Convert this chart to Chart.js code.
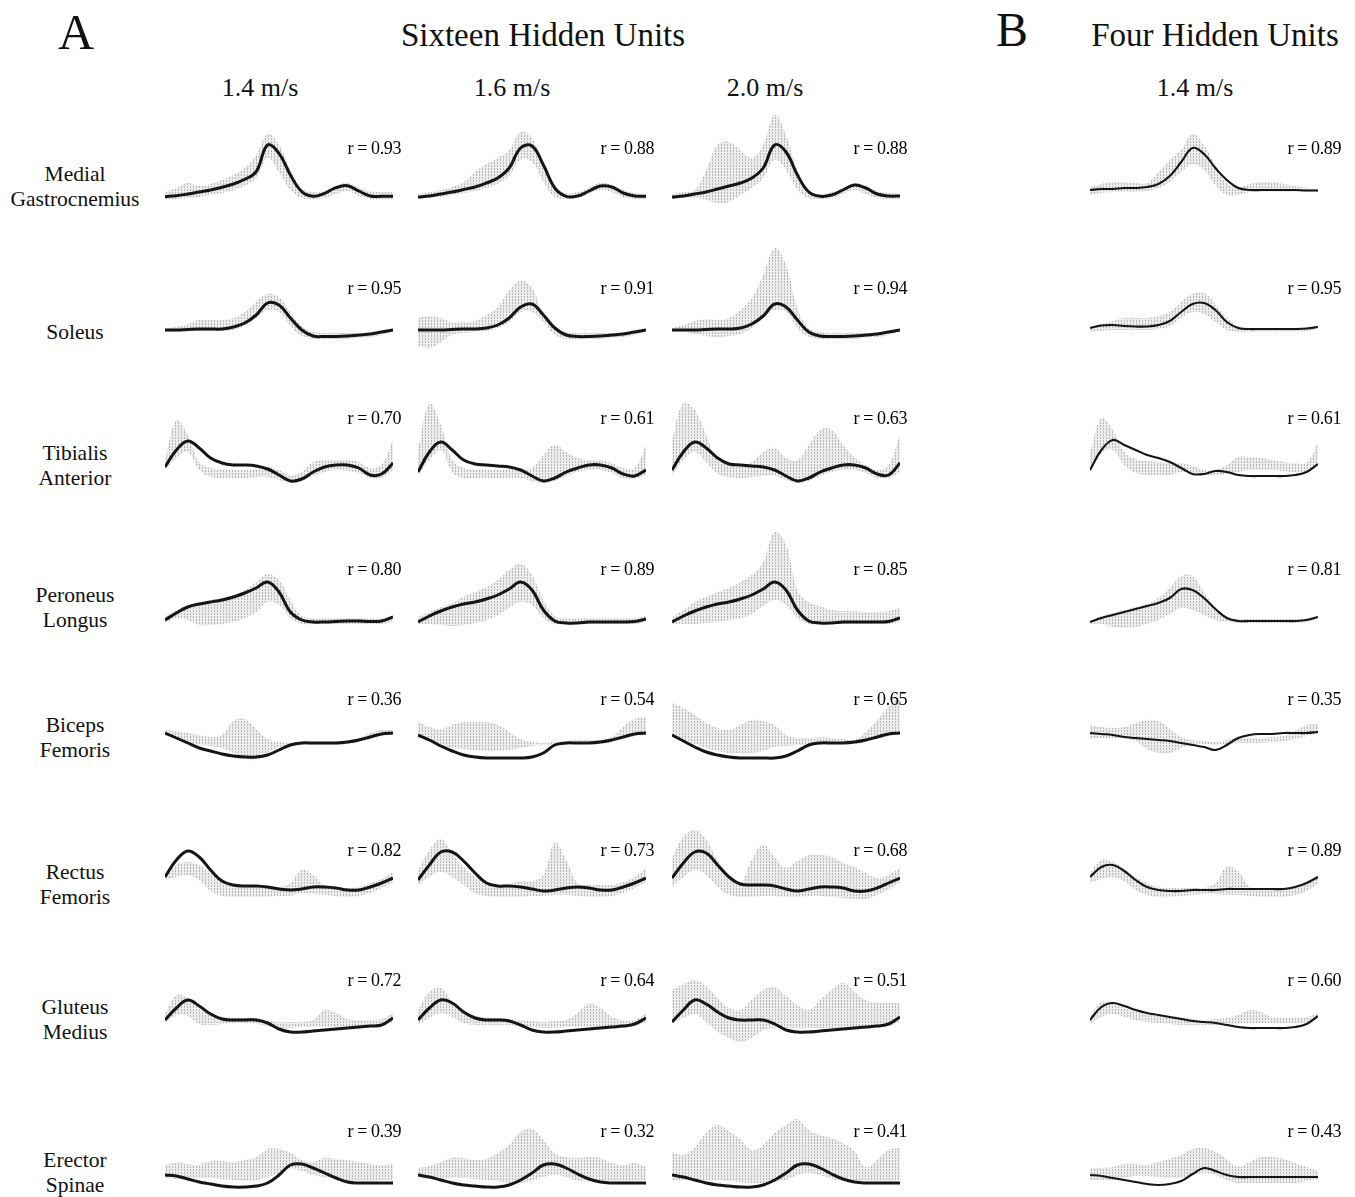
<!DOCTYPE html>
<html>
<head>
<meta charset="utf-8">
<script src="https://cdn.jsdelivr.net/npm/chart.js@4/dist/chart.umd.min.js"></script>
<style>
  html, body { margin: 0; padding: 0; background: #fff; }
  body { width: 1355px; height: 1197px; position: relative; overflow: hidden;
         font-family: "Liberation Serif", "Times New Roman", serif; color: #111; }
  .txt { position: absolute; white-space: nowrap; line-height: 1; }
  .mid { transform: translate(-50%, -50%); text-align: center; }
  .rlab { transform: translate(-100%, -50%); font-size: 18px; letter-spacing: -0.4px; color: #000; }
  .rowlab { font-size: 21.5px; line-height: 25px; }
  canvas.panel { position: absolute; }
</style>
</head>
<body>
<script>
// ---- data (gait cycle in %, activation in arbitrary units) ----
const gaitCycle = [0, 5, 10, 15, 20, 25, 30, 35, 40, 45, 50, 55, 60, 65, 70, 75, 80, 85, 90, 95, 100]

const muscleNames = [['Medial', 'Gastrocnemius'], ['Soleus'], ['Tibialis', 'Anterior'], ['Peroneus', 'Longus'],
                     ['Biceps', 'Femoris'], ['Rectus', 'Femoris'], ['Gluteus', 'Medius'], ['Erector', 'Spinae']]
const speedLabels = ['1.4 m/s', '1.6 m/s', '2.0 m/s', '1.4 m/s']

// correlation per muscle: 16 units @1.4, 1.6, 2.0 m/s, 4 units @1.4 m/s
const rValues = [
    [0.93, 0.88, 0.88, 0.89],
    [0.95, 0.91, 0.94, 0.95],
    [0.70, 0.61, 0.63, 0.61],
    [0.80, 0.89, 0.85, 0.81],
    [0.36, 0.54, 0.65, 0.35],
    [0.82, 0.73, 0.68, 0.89],
    [0.72, 0.64, 0.51, 0.60],
    [0.39, 0.32, 0.41, 0.43]
]

const medGastroModel = [
    [3.3, 4.3, 6, 8, 10, 12.7, 16, 20.7, 28.3, 55, 46.7, 25, 8.3, 3.7, 6.7, 12.3, 14.3, 9, 4, 3.7, 3.7],
    [3, 4, 6, 8, 10.5, 13, 17, 22, 32, 52, 54, 35, 12, 3.7, 4, 9, 14, 13, 7, 4, 3.7],
    [3, 4, 6, 8, 11, 14, 17, 22, 32, 55, 48, 25, 8, 3.7, 5, 10, 15, 12, 6, 4, 4],
    [10, 11, 11, 12, 12, 13, 16, 24, 38, 52, 46, 32, 20, 12, 10, 10, 10, 10, 10, 9.5, 9.5]
]
const medGastroUpper = [
    [8, 12, 17, 14, 16, 20, 25, 32, 45, 66, 55, 30, 12, 8, 9, 14, 17, 12, 9, 8, 8],
    [6, 8, 10, 13, 18, 28, 36, 42, 50, 68, 62, 35, 12, 7, 8, 12, 17, 15, 10, 7, 6],
    [6, 8, 10, 30, 55, 58, 50, 42, 55, 85, 65, 30, 10, 6, 8, 12, 17, 14, 9, 7, 6],
    [12, 16, 18, 18, 17, 17, 28, 40, 50, 66, 55, 35, 17, 13, 16, 18, 18, 16, 14, 12, 11]
]
const medGastroLower = [
    [1, 1, 2, 3, 5, 7, 10, 14, 22, 42, 28, 10, 2, 1, 2, 6, 9, 4, 1, 1, 1],
    [1, 2, 3, 5, 7, 9, 12, 16, 24, 40, 38, 18, 3, 1, 2, 6, 10, 8, 3, 1, 1],
    [1, 2, 2, 0, -3, -2, 5, 12, 22, 40, 30, 10, 2, 1, 2, 6, 10, 6, 2, 1, 1],
    [5, 7, 8, 8, 8, 9, 12, 18, 28, 36, 30, 15, 5, 5, 8, 8, 8, 8, 8, 8, 8]
]

const soleusModel = [
    [10, 10, 10.5, 11, 11, 11, 13, 17, 25, 37, 35, 22, 10, 4, 3.5, 3.5, 4, 5, 6, 8, 10],
    [10, 10, 10, 10.5, 11, 11, 12, 15, 22, 33, 36, 25, 12, 5, 3.5, 3.5, 4, 5, 6, 8, 10],
    [10, 10, 10, 10.5, 11, 11, 12, 16, 24, 36, 33, 20, 8, 4, 3.5, 3.5, 4, 5, 6, 8, 10],
    [12, 14.5, 15, 14, 13.5, 13.5, 15, 19, 28, 36, 37, 30, 18, 12, 11, 11, 11, 11, 11, 11.5, 13]
]
const soleusUpper = [
    [12, 13, 16, 20, 20, 20, 22, 28, 38, 46, 43, 28, 14, 8, 7, 7, 7, 7, 7, 8, 11],
    [22, 24, 22, 18, 18, 19, 25, 33, 50, 59, 52, 25, 12, 8, 7, 7, 7, 7, 7, 8, 11],
    [12, 15, 19, 21, 20, 22, 30, 42, 65, 92, 75, 32, 12, 8, 7, 7, 7, 7, 7, 8, 11],
    [13, 16, 19, 22, 22, 22, 24, 28, 38, 46, 47, 36, 22, 14, 12, 12, 12, 12, 12, 12, 14]
]
const soleusLower = [
    [8, 8, 9, 9, 9, 9, 10, 14, 22, 30, 28, 14, 4, 1, 1, 1, 1, 2, 3, 5, 8],
    [-6, -8, -2, 5, 7, 8, 9, 12, 18, 28, 28, 18, 5, 1, 1, 1, 1, 2, 3, 5, 8],
    [8, 8, 6, 4, 3, 4, 6, 12, 22, 30, 28, 12, 3, 1, 1, 1, 1, 2, 3, 5, 8],
    [8, 9, 10, 10, 10, 10, 11, 14, 22, 28, 26, 18, 10, 8, 8, 8, 8, 8, 8, 9, 11]
]

const tibAntModel = [
    [23, 40, 49, 42, 32, 27, 25, 25, 24, 21, 15, 9, 11, 18, 23, 25, 25, 22, 15, 16, 27],
    [18, 38, 48, 40, 30, 26, 25, 24, 23, 20, 14, 9, 12, 18, 22, 25, 25, 22, 16, 14, 20],
    [20, 38, 48, 42, 32, 26, 25, 24, 23, 20, 14, 9, 12, 18, 22, 25, 25, 22, 16, 15, 27],
    [20, 40, 50, 45, 40, 35, 32, 28, 22, 16, 16, 19, 18, 15, 14, 14, 14, 14, 15, 18, 26]
]
const tibAntUpper = [
    [30, 70, 55, 28, 22, 21, 20, 20, 21, 23, 20, 15, 18, 28, 30, 30, 30, 28, 22, 25, 50],
    [40, 86, 65, 30, 22, 21, 20, 20, 21, 22, 22, 35, 45, 38, 32, 30, 30, 27, 22, 22, 45],
    [50, 87, 80, 55, 30, 26, 25, 28, 38, 42, 32, 30, 45, 60, 60, 45, 33, 25, 20, 25, 55],
    [37, 72, 60, 38, 31, 29, 28, 27, 27, 24, 20, 20, 25, 33, 33, 32, 30, 28, 27, 27, 47]
]
const tibAntLower = [
    [20, 32, 38, 20, 13, 12, 12, 12, 13, 13, 10, 8, 9, 14, 18, 20, 19, 17, 12, 12, 20],
    [15, 30, 40, 18, 12, 12, 12, 12, 12, 12, 9, 7, 9, 14, 18, 20, 20, 17, 12, 11, 15],
    [15, 30, 38, 28, 16, 13, 12, 13, 14, 14, 10, 7, 9, 14, 18, 20, 20, 17, 12, 12, 18],
    [17, 37, 40, 25, 17, 15, 15, 15, 18, 17, 15, 15, 16, 18, 20, 20, 20, 19, 18, 19, 25]
]

const peronModel = [
    [10, 17, 23, 26, 28, 30, 33, 37, 42, 48, 38, 18, 10, 8, 8, 8.5, 9, 9, 8.5, 9, 13],
    [8, 14, 19, 23, 26, 28, 31, 35, 41, 48, 40, 20, 9, 7, 7, 8, 8, 8, 8, 8.5, 11],
    [8, 14, 19, 23, 26, 28, 31, 35, 41, 48, 40, 20, 9, 7, 7, 8, 8, 8, 8, 8.5, 12],
    [8, 12, 15, 18, 21, 24, 27, 32, 41, 40, 32, 21, 12, 9, 9, 9, 9, 9, 9, 10, 13]
]
const peronUpper = [
    [14, 20, 25, 27, 30, 32, 35, 40, 48, 56, 50, 30, 14, 12, 12, 12, 12, 12, 12, 12, 14],
    [13, 18, 23, 27, 33, 38, 43, 50, 60, 66, 55, 30, 14, 12, 12, 12, 12, 12, 12, 12, 14],
    [13, 20, 28, 33, 38, 42, 48, 55, 68, 98, 85, 40, 28, 24, 20, 19, 19, 18, 18, 19, 22],
    [9, 14, 17, 20, 23, 26, 32, 42, 54, 54, 38, 22, 13, 11, 11, 11, 11, 11, 11, 12, 14]
]
const peronLower = [
    [7, 12, 10, 5, 5, 6, 8, 12, 18, 28, 25, 12, 6, 6, 6, 6, 6, 6, 6, 6, 8],
    [6, 6, 5, 4, 5, 7, 10, 15, 22, 28, 25, 12, 6, 6, 6, 6, 6, 6, 6, 6, 8],
    [6, 6, 6, 7, 8, 10, 12, 16, 24, 30, 25, 12, 6, 6, 6, 6, 6, 6, 6, 6, 8],
    [6, 6, 3, 2, 3, 6, 10, 16, 22, 20, 15, 10, 8, 7, 7, 7, 7, 7, 7, 8, 11]
]

const bicepsModel = [
    [32, 27, 22, 17, 14, 11, 9, 8, 8, 10, 15, 20, 22, 22, 22, 22, 23, 25, 28, 31, 32],
    [30, 25, 19, 14, 10, 8, 7, 7, 7, 7, 8, 12, 20, 22, 22, 22, 23, 25, 28, 31, 32],
    [30, 24, 18, 13, 10, 8, 7, 7, 7, 7, 9, 14, 20, 22, 22, 22, 23, 25, 28, 31, 32],
    [32, 31, 30, 28, 27, 26, 25, 24, 22, 20, 18, 15, 20, 27, 30, 31, 31, 32, 32, 32, 33]
]
const bicepsUpper = [
    [35, 34, 32, 30, 28, 30, 44, 46, 36, 26, 23, 22, 23, 23, 23, 23, 24, 27, 32, 35, 35],
    [43, 38, 36, 40, 43, 43, 43, 40, 33, 26, 23, 22, 23, 24, 25, 25, 25, 28, 38, 46, 48],
    [62, 57, 50, 42, 37, 35, 40, 45, 44, 40, 30, 27, 27, 28, 27, 26, 25, 33, 45, 58, 68],
    [40, 38, 37, 38, 42, 45, 44, 36, 28, 25, 24, 23, 25, 27, 27, 27, 28, 29, 34, 40, 41]
]
const bicepsLower = [
    [30, 26, 22, 20, 19, 17, 12, 7, 5, 12, 18, 19, 20, 20, 20, 20, 21, 23, 26, 30, 31],
    [28, 24, 20, 17, 16, 15, 14, 14, 15, 17, 19, 20, 20, 20, 21, 21, 21, 23, 26, 29, 31],
    [28, 25, 21, 17, 14, 12, 12, 12, 14, 18, 19, 20, 20, 20, 21, 21, 21, 23, 26, 29, 31],
    [27, 27, 27, 26, 24, 16, 12, 12, 17, 21, 21, 20, 21, 22, 22, 22, 23, 24, 26, 29, 32]
]

const rectusModel = [
    [28, 45, 54, 48, 35, 24, 20, 19, 19, 18, 16, 15, 16, 18, 18, 17, 15, 15, 18, 22, 27],
    [25, 40, 53, 53, 44, 32, 22, 19, 19, 18, 16, 14, 15, 17, 18, 17, 15, 15, 18, 22, 27],
    [27, 42, 53, 52, 40, 28, 21, 20, 20, 19, 16, 14, 16, 18, 18, 17, 14, 14, 17, 22, 27],
    [28, 38, 40, 34, 25, 18, 15, 14, 14, 15, 15, 15, 16, 16, 16, 16, 16, 16, 18, 22, 28]
]
const rectusUpper = [
    [30, 40, 43, 40, 32, 24, 20, 19, 19, 19, 18, 22, 35, 30, 20, 18, 17, 18, 22, 26, 33],
    [35, 55, 66, 52, 38, 28, 22, 20, 21, 24, 24, 30, 62, 45, 22, 20, 20, 20, 23, 28, 37],
    [47, 68, 75, 65, 45, 30, 22, 45, 60, 48, 37, 44, 50, 50, 48, 42, 38, 32, 27, 30, 37],
    [32, 45, 43, 36, 28, 22, 18, 17, 17, 17, 17, 22, 38, 34, 18, 16, 16, 17, 19, 23, 30]
]
const rectusLower = [
    [25, 28, 30, 25, 14, 9, 8, 8, 8, 8, 9, 9, 12, 11, 10, 9, 8, 9, 12, 17, 23],
    [20, 28, 33, 28, 20, 12, 9, 8, 8, 8, 9, 9, 10, 10, 9, 8, 8, 9, 12, 17, 23],
    [18, 28, 35, 30, 18, 10, 8, 8, 9, 9, 8, 8, 9, 9, 8, 7, 6, 6, 10, 16, 23],
    [22, 26, 28, 24, 15, 10, 8, 8, 9, 10, 11, 11, 10, 10, 9, 8, 8, 8, 10, 14, 22]
]

const glutModel = [
    [30, 42, 50, 44, 36, 31, 30, 30, 30, 27, 21, 18, 18, 19, 20, 21, 22, 23, 24, 25, 32],
    [30, 42, 50, 47, 38, 32, 30, 30, 29, 25, 20, 18, 18, 19, 20, 21, 22, 23, 24, 26, 32],
    [28, 40, 50, 46, 38, 32, 30, 30, 30, 26, 20, 18, 18, 19, 20, 21, 22, 23, 24, 26, 33],
    [30, 43, 47, 44, 40, 37, 35, 33, 31, 29, 28, 27, 25, 23, 22, 22, 22, 22, 23, 26, 34]
]
const glutUpper = [
    [36, 55, 52, 42, 35, 33, 32, 32, 32, 30, 28, 28, 28, 30, 40, 37, 31, 30, 30, 31, 37],
    [40, 58, 62, 48, 38, 34, 33, 32, 31, 30, 29, 28, 29, 30, 37, 46, 42, 33, 30, 30, 37],
    [60, 66, 70, 64, 52, 42, 40, 50, 60, 63, 54, 45, 40, 50, 60, 67, 58, 50, 47, 47, 47],
    [33, 48, 46, 42, 38, 36, 35, 34, 33, 31, 30, 31, 32, 35, 40, 38, 33, 32, 32, 33, 37]
]
const glutLower = [
    [27, 35, 34, 26, 25, 26, 27, 27, 26, 24, 22, 22, 23, 23, 23, 23, 23, 23, 23, 24, 28],
    [25, 32, 37, 33, 27, 25, 25, 25, 25, 24, 23, 22, 22, 23, 23, 23, 23, 23, 23, 24, 28],
    [27, 32, 36, 28, 18, 12, 8, 12, 20, 22, 22, 22, 22, 22, 22, 22, 22, 22, 23, 24, 28],
    [26, 33, 36, 33, 30, 28, 27, 26, 25, 25, 25, 25, 25, 26, 27, 27, 27, 27, 27, 28, 32]
]

const erectorModel = [
    [20, 19, 16, 13, 11, 9, 8, 8, 9, 12, 20, 30, 31, 27, 22, 17, 13, 12, 12, 12, 12],
    [20, 18, 15, 12, 10, 9, 8, 8, 10, 15, 22, 30, 31, 27, 21, 16, 13, 12, 12, 12, 12],
    [20, 18, 15, 12, 10, 9, 8, 8, 10, 15, 22, 30, 31, 27, 21, 16, 13, 12, 12, 12, 12],
    [20, 19, 17, 15, 13, 11, 10, 11, 14, 21, 27, 24, 20, 18, 18, 18, 18, 18, 18, 18, 18]
]
const erectorUpper = [
    [30, 32, 31, 30, 34, 34, 33, 35, 38, 46, 46, 42, 35, 33, 37, 36, 35, 33, 31, 30, 31],
    [27, 29, 33, 37, 37, 35, 36, 42, 50, 63, 66, 55, 42, 38, 37, 38, 37, 32, 30, 32, 28],
    [43, 40, 48, 62, 70, 64, 55, 45, 50, 62, 70, 76, 65, 60, 57, 52, 44, 28, 35, 45, 47],
    [27, 27, 28, 31, 31, 30, 33, 36, 40, 46, 47, 43, 36, 28, 33, 38, 38, 36, 32, 28, 24]
]
const erectorLower = [
    [17, 16, 16, 17, 17, 16, 15, 14, 15, 18, 22, 26, 24, 20, 18, 16, 14, 14, 14, 15, 15],
    [17, 16, 16, 17, 17, 16, 15, 14, 12, 12, 14, 18, 20, 18, 14, 14, 14, 14, 14, 15, 15],
    [15, 15, 15, 15, 15, 14, 13, 12, 12, 13, 15, 20, 22, 20, 16, 14, 14, 14, 14, 14, 15],
    [15, 15, 15, 17, 19, 19, 18, 17, 17, 20, 22, 20, 15, 12, 12, 12, 12, 12, 12, 14, 16]
]

const modelSeries = [medGastroModel, soleusModel, tibAntModel, peronModel, bicepsModel, rectusModel, glutModel, erectorModel]
const upperSeries = [medGastroUpper, soleusUpper, tibAntUpper, peronUpper, bicepsUpper, rectusUpper, glutUpper, erectorUpper]
const lowerSeries = [medGastroLower, soleusLower, tibAntLower, peronLower, bicepsLower, rectusLower, glutLower, erectorLower]

// ---- layout ----
const panelLeft = [165, 418, 672, 1090]
const panelWidth = 228
const lineWidth = [3, 3, 3, 2.1]   // 16-unit panels show several overlapping nets
const rowBase = [200, 340, 490, 630, 765, 905, 1050, 1195]
const rLabelY = [148, 288, 418, 569, 699, 850, 980, 1131]
const rLabelRight = [401, 654, 907, 1341]
const rowLabelY = [187, 332, 466, 608, 738, 885, 1020, 1173]
const yMin = -8, yMax = 104

Chart.defaults.animation = false

function addText(html, x, y, size, cls) {
    const d = document.createElement('div')
    d.className = 'txt ' + (cls || 'mid')
    d.style.left = x + 'px'
    d.style.top = y + 'px'
    if (size) d.style.fontSize = size + 'px'
    d.innerHTML = html
    document.body.appendChild(d)
}

// stippled grey fill like the printed SD band
function makeStipple(ctx) {
    const p = document.createElement('canvas')
    p.width = 3
    p.height = 3
    const g = p.getContext('2d')
    g.fillStyle = 'rgba(210,210,210,0.4)'
    g.fillRect(0, 0, 3, 3)
    g.fillStyle = 'rgba(130,130,130,0.5)'
    g.fillRect(1, 0, 1, 2)
    return ctx.createPattern(p, 'repeat')
}

function toPoints(arr) {
    return arr.map((v, i) => ({ x: gaitCycle[i], y: v }))
}

function drawPanel(row, col) {
    const canvas = document.createElement('canvas')
    canvas.className = 'panel'
    canvas.width = panelWidth
    canvas.height = yMax - yMin
    canvas.style.left = panelLeft[col] + 'px'
    canvas.style.top = (rowBase[row] - yMax) + 'px'
    document.body.appendChild(canvas)
    const ctx = canvas.getContext('2d')

    new Chart(ctx, {
        type: 'line',
        data: {
            datasets: [
                {   // network output
                    data: toPoints(modelSeries[row][col]),
                    borderColor: '#151515',
                    borderWidth: lineWidth[col],
                    pointRadius: 0,
                    tension: 0.4,
                    fill: false,
                    clip: false
                },
                {   // band lower edge
                    data: toPoints(lowerSeries[row][col]),
                    borderWidth: 0,
                    borderColor: 'rgba(0,0,0,0)',
                    pointRadius: 0,
                    tension: 0.4,
                    fill: false
                },
                {   // band upper edge, filled down to the lower edge
                    data: toPoints(upperSeries[row][col]),
                    borderWidth: 0,
                    borderColor: 'rgba(0,0,0,0)',
                    backgroundColor: makeStipple(ctx),
                    pointRadius: 0,
                    tension: 0.4,
                    fill: 1
                }
            ]
        },
        options: {
            responsive: false,
            devicePixelRatio: 1,
            layout: { padding: 0 },
            plugins: { legend: { display: false }, tooltip: { enabled: false } },
            scales: {
                x: { type: 'linear', min: 0, max: 100, display: false },
                y: { min: yMin, max: yMax, display: false }
            }
        }
    })
}

// titles
addText('A', 76, 32, 50)
addText('Sixteen Hidden Units', 543, 35, 33)
addText('B', 1012, 30, 48)
addText('Four Hidden Units', 1215, 35, 33)
const speedX = [260, 512, 765, 1195]
speedLabels.forEach((s, i) => addText(s, speedX[i], 88, 26))

muscleNames.forEach((lines, row) => {
    addText(lines.join('<br>'), 75, rowLabelY[row], null, 'mid rowlab')
    for (let col = 0; col < 4; col++) {
        drawPanel(row, col)
        addText('r = ' + rValues[row][col].toFixed(2), rLabelRight[col], rLabelY[row], null, 'rlab')
    }
})
</script>
</body>
</html>
